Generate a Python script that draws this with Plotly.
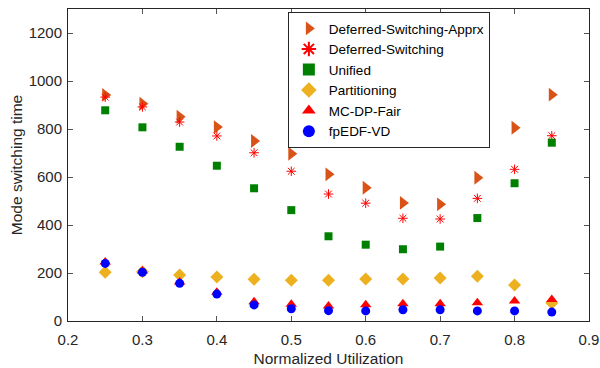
import plotly.graph_objects as go

util = [0.25, 0.3, 0.35, 0.4, 0.45, 0.5, 0.55, 0.6, 0.65, 0.7, 0.75, 0.8, 0.85]

ds_apprx = [942, 905, 851, 808, 750, 697, 611, 555, 492, 486, 597, 805, 943]
ds = [933, 892, 829, 771, 701, 624, 529, 491, 428, 425, 511, 632, 772]
unified = [878, 807, 726, 647, 553, 462, 353, 318, 299, 310, 429, 574, 743]
partitioning = [203, 205, 192, 183, 174, 170, 170, 175, 175, 179, 186, 150, 75]
mcdp = [246, 208, 162, 120, 80, 70, 62, 68, 72, 72, 76, 83, 90]
fpedf = [240, 203, 157, 112, 67, 51, 43, 42, 47, 47, 42, 42, 37]

series = [
    ("Deferred-Switching-Apprx", ds_apprx, "triangle-right", "#D95319", 12),
    ("Deferred-Switching", ds, "asterisk-open", "#FF0000", 8),
    ("Unified", unified, "square", "#008000", 8),
    ("Partitioning", partitioning, "diamond", "#EDB120", 10),
    ("MC-DP-Fair", mcdp, "triangle-up", "#FF0000", 10),
    ("fpEDF-VD", fpedf, "circle", "#0000FF", 9),
]

fig = go.Figure()
for name, vals, sym, col, sz in series:
    fig.add_trace(go.Scatter(
        x=util, y=vals, mode="markers", name=name,
        marker=dict(symbol=sym, color=col, size=sz,
                    line=dict(color=col, width=1 if "open" in sym else 0)),
    ))

FONT = "Liberation Sans, Arial, sans-serif"
axis_common = dict(
    showline=True, linecolor="#262626", linewidth=1, mirror="ticks",
    ticks="inside", ticklen=5, tickcolor="#555555", showgrid=False, zeroline=False,
    tickfont=dict(family=FONT, size=15, color="#262626"), automargin=False,
)

fig.update_layout(
    width=600, height=368,
    margin=dict(l=68, r=11, t=9, b=47),
    paper_bgcolor="white", plot_bgcolor="white",
    font=dict(family=FONT, size=15, color="#262626"),
    showlegend=True,
    legend=dict(
        x=0.422, y=0.99, xanchor="left", yanchor="top",
        bordercolor="#262626", borderwidth=1, bgcolor="white",
        font=dict(size=13.5, color="#000000"), tracegroupgap=0,
        itemsizing="constant",
    ),
    xaxis=dict(range=[0.2, 0.9], dtick=0.1, tick0=0.2, tickformat=".1f",
               ticklabelstandoff=5,
               title=dict(text="Normalized Utilization", standoff=6,
                          font=dict(size=15.5, color="#262626")), **axis_common),
    yaxis=dict(range=[0, 1300], dtick=200, tick0=0, ticklabelstandoff=2,
               title=dict(text="Mode switching time", standoff=2,
                          font=dict(size=15.5, color="#262626")), **axis_common),
)

fig.write_html("out.html")
